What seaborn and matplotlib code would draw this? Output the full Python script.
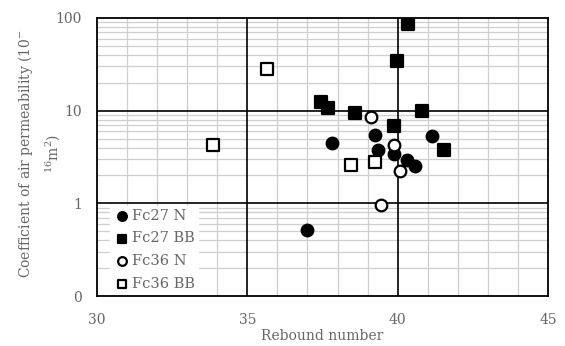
import matplotlib
matplotlib.use("Agg")
import matplotlib.pyplot as plt
import seaborn as sns
import pandas as pd
from matplotlib.ticker import FixedLocator, NullFormatter

# Datos (numero de rebote vs permeabilidad al aire)
fc27n_x = [37.8, 39.25, 41.13, 39.36, 39.89, 40.32, 40.58, 37.0]
fc27n_y = [4.5, 5.5, 5.3, 3.8, 3.4, 2.9, 2.5, 0.52]
fc27bb_x = [40.33, 39.99, 37.45, 37.69, 38.58, 40.8, 39.89, 41.55]
fc27bb_y = [85.5, 34.4, 12.5, 10.6, 9.4, 10.0, 6.9, 3.8]
fc36n_x = [39.11, 39.89, 40.08, 39.44]
fc36n_y = [8.6, 4.3, 2.25, 0.95]
fc36bb_x = [35.66, 33.87, 38.44, 39.23]
fc36bb_y = [28.2, 4.27, 2.6, 2.8]

series = [
    ("Fc27 N", fc27n_x, fc27n_y, "o", "black"),
    ("Fc27 BB", fc27bb_x, fc27bb_y, "s", "black"),
    ("Fc36 N", fc36n_x, fc36n_y, "o", "white"),
    ("Fc36 BB", fc36bb_x, fc36bb_y, "s", "white"),
]

x_ticks = [30, 35, 40, 45]
y_ticks = [0.1, 1, 10, 100]
y_tick_labels = ["0", "1", "10", "100"]

sns.set_style("white")
plt.rcParams['font.family'] = ['DejaVu Serif']
plt.rcParams['mathtext.fontset'] = 'dejavuserif'
gris = "#666666"

fig = plt.figure(figsize=(5.65, 3.46), dpi=100)
ax = fig.add_axes([0.1717, 0.1445, 0.7983, 0.8035])

for nombre, xs, ys, marcador, relleno in series:
    df = pd.DataFrame({"x": xs, "y": ys})
    sns.scatterplot(data=df, x="x", y="y", marker=marcador, color=relleno,
                    edgecolor="black", linewidth=1.6, s=70, ax=ax,
                    label=nombre, zorder=5)

ax.set_yscale("log")
ax.set_xlim(30, 45)
ax.set_ylim(0.1, 100)

# Rejilla menor gris y mayor negra
ax.xaxis.set_minor_locator(FixedLocator([v for v in range(30, 46)]))
menores = [m * 10.0 ** e for e in (-1, 0, 1) for m in range(2, 10)]
ax.yaxis.set_minor_locator(FixedLocator(menores))
ax.yaxis.set_minor_formatter(NullFormatter())
ax.grid(which="minor", color="#cfcfcf", linewidth=0.9, zorder=0)
for v in [35, 40]:
    ax.axvline(v, color="black", linewidth=1.2, zorder=1)
for v in [1, 10]:
    ax.axhline(v, color="black", linewidth=1.2, zorder=1)
ax.set_axisbelow(True)

ax.set_xticks(x_ticks)
ax.set_xticklabels([str(t) for t in x_ticks])
ax.set_yticks(y_ticks)
ax.set_yticklabels(y_tick_labels)
ax.tick_params(which="both", length=0, labelsize=10, colors=gris)
ax.tick_params(axis="x", pad=12)
ax.tick_params(axis="y", pad=11)

for lado in ax.spines.values():
    lado.set_color("black")
    lado.set_linewidth(1.3)

ax.set_xlabel("Rebound number", fontsize=10, color=gris, labelpad=2)
ax.set_ylabel("")
fig.text(0.069, 0.555, "Coefficient of air permeability (10$^{-}$\n$^{16}$m$^{2}$)",
         rotation=90, ha="center", va="center", multialignment="center",
         fontsize=10, color=gris, linespacing=1.6)

leg = ax.legend(loc="lower left", bbox_to_anchor=(0.029, 0.008), frameon=True,
                fontsize=10.5, handletextpad=0.1, borderaxespad=0.0,
                labelspacing=0.6, markerscale=0.75, handlelength=1.2,
                borderpad=0.2)
leg.set_zorder(2)
leg.get_frame().set_facecolor("white")
leg.get_frame().set_edgecolor("white")
leg.get_frame().set_alpha(1)
leg.get_frame().set_boxstyle("square", pad=0.0)
for t in leg.get_texts():
    t.set_color(gris)

plt.savefig("out.png", dpi=100)
plt.close()
